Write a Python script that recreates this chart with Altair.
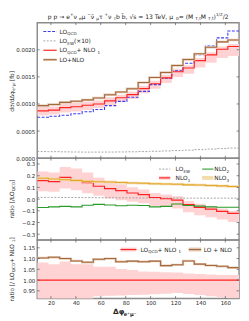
import altair as alt
import pandas as pd

FONT = "DejaVu Sans"

# ---------------- data ----------------
# bin edges of Δφ(e+ μ-) in degrees
edges = [9, 18, 27, 36, 45, 54, 63, 72, 81, 90, 99, 108, 117, 126, 135, 144, 153, 162, 171]

# top panel: dσ/dΔφ [fb]
lo_qcd = [0.000756, 0.000774, 0.000792, 0.000821, 0.000857, 0.000899, 0.000970, 0.001048, 0.001125,
          0.001232, 0.001357, 0.001476, 0.001613, 0.001750, 0.001910, 0.002070, 0.002220, 0.002345]
lo_ew_x10 = [0.000122, 0.000120, 0.000117, 0.000114, 0.000112, 0.000112, 0.000113, 0.000115, 0.000118,
             0.000122, 0.000127, 0.000133, 0.000140, 0.000148, 0.000158, 0.000168, 0.000177, 0.000186]
lo_qcd_nlo1 = [0.000872, 0.000888, 0.000933, 0.000948, 0.000976, 0.001000, 0.001058, 0.001115, 0.001172,
               0.001283, 0.001373, 0.001480, 0.001595, 0.001664, 0.001800, 0.001905, 0.002010, 0.002060]
lo_qcd_nlo1_lo = [0.000789, 0.000804, 0.000844, 0.000863, 0.000890, 0.000925, 0.000981, 0.001035, 0.001090,
                  0.001196, 0.001282, 0.001385, 0.001499, 0.001556, 0.001674, 0.001762, 0.001849, 0.001885]
lo_qcd_nlo1_hi = [0.000944, 0.000953, 0.001013, 0.001017, 0.001047, 0.001062, 0.001124, 0.001172, 0.001227,
                  0.001334, 0.001427, 0.001533, 0.001651, 0.001714, 0.001850, 0.001955, 0.002058, 0.002107]
lo_nlo = [0.000970, 0.000990, 0.001030, 0.001050, 0.001075, 0.001110, 0.001170, 0.001220, 0.001280,
          0.001395, 0.001490, 0.001580, 0.001710, 0.001820, 0.001925, 0.002045, 0.002145, 0.002180]

# middle panel: ratio to LO_QCD
r_ew = [0.015, 0.015, 0.014, 0.014, 0.013, 0.012, 0.012, 0.011, 0.011,
        0.010, 0.010, 0.009, 0.009, 0.008, 0.008, 0.008, 0.008, 0.008]
r_nlo1 = [0.158, 0.150, 0.186, 0.158, 0.140, 0.110, 0.089, 0.072, 0.052,
          0.039, 0.014, 0.003, -0.008, -0.047, -0.070, -0.086, -0.105, -0.122]
r_nlo1_lo = [0.067, 0.062, 0.090, 0.075, 0.050, 0.028, 0.005, -0.010, -0.022,
             -0.035, -0.058, -0.068, -0.080, -0.112, -0.138, -0.155, -0.175, -0.195]
r_nlo1_hi = [0.236, 0.228, 0.275, 0.262, 0.228, 0.182, 0.158, 0.128, 0.102,
             0.082, 0.052, 0.040, 0.025, -0.018, -0.040, -0.060, -0.080, -0.100]
r_nlo2 = [-0.072, -0.066, -0.062, -0.066, -0.052, -0.045, -0.050, -0.057, -0.053,
          -0.055, -0.066, -0.062, -0.042, -0.055, -0.060, -0.066, -0.070, -0.070]
r_nlo3 = [0.178, 0.172, 0.165, 0.160, 0.152, 0.148, 0.146, 0.142, 0.138,
          0.135, 0.132, 0.130, 0.127, 0.122, 0.120, 0.117, 0.113, 0.108]

# bottom panel: ratio to LO_QCD + NLO_1
b_ref = [1.0] * 18
b_ref_lo = [0.905, 0.905, 0.905, 0.910, 0.912, 0.925, 0.927, 0.928, 0.930,
            0.932, 0.934, 0.936, 0.940, 0.935, 0.930, 0.925, 0.920, 0.915]
b_ref_hi = [1.082, 1.073, 1.086, 1.073, 1.073, 1.062, 1.062, 1.051, 1.047,
            1.040, 1.039, 1.036, 1.035, 1.030, 1.028, 1.026, 1.024, 1.023]
b_lo_nlo = [1.103, 1.106, 1.100, 1.089, 1.083, 1.097, 1.100, 1.085, 1.088,
            1.085, 1.088, 1.067, 1.071, 1.089, 1.074, 1.068, 1.064, 1.058]

x_ticks = [20, 40, 60, 80, 100, 120, 140, 160]
top_ticks = [0.0, 0.0005, 0.0010, 0.0015, 0.0020]
mid_ticks = [-0.3, -0.2, -0.1, 0.0, 0.1, 0.2, 0.3]
bot_ticks = [0.95, 1.00, 1.05, 1.10, 1.15]

# ---------------- style ----------------
W = 207
H1, H2, H3 = 139, 84, 60
BLUE = "#3b3bf0"
GRAY = "#9a9a9a"
RED = "#ff2222"
PINK = "#ffd3d3"
BROWN = "#a5693f"
TAN = "#e2c9b4"
GREEN = "#2a9a2a"
ORANGE = "#e3a52c"
LORANGE = "#f4dcaa"
LAB = "#262626"
TICKC = "#555555"
SPINE = "#8c8c8c"

EM = {' ': 0.318, 'a': 0.613, 'b': 0.635, 'c': 0.550, 'd': 0.635, 'e': 0.615, 'f': 0.352,
      'i': 0.278, 'l': 0.278, 'n': 0.634, 'o': 0.612, 'p': 0.635, 'r': 0.411, 's': 0.521,
      't': 0.392, 'u': 0.634, 'v': 0.592, 'x': 0.592, 'C': 0.698, 'D': 0.770, 'E': 0.632,
      'L': 0.557, 'M': 0.863, 'N': 0.748, 'O': 0.787, 'Q': 0.787, 'T': 0.611, 'V': 0.684,
      'W': 0.989, '+': 0.838, '=': 0.838, '×': 0.838, '−': 0.838, ',': 0.318, '.': 0.318,
      '/': 0.337, '(': 0.390, ')': 0.390, '[': 0.390, ']': 0.390, '→': 0.838, '√': 0.636,
      'σ': 0.633, 'φ': 0.660, 'Δ': 0.684, 'μ': 0.636, 'ν': 0.592, 'τ': 0.580,
      '⁺': 0.52, '⁻': 0.52, '\u0304': 0.0}
for _d in "0123456789":
    EM[_d] = 0.636

ONE = pd.DataFrame({"o": [0]})


def text_w(s, fs, bold=False):
    return sum(EM.get(c, 0.6) for c in s) * fs * (1.1 if bold else 1.0)


def rich(segs, x, y, fs, color=LAB, angle=0, anchor="start", weight="normal"):
    items = []
    for t, kind in segs:
        f = fs if kind == "n" else fs * 0.7
        shift = 0 if kind == "n" else (0.28 * fs if kind == "sub" else -0.42 * fs)
        items.append((t, f, shift))
    bold = weight == "bold"
    total = sum(text_w(t, f, bold) for t, f, _ in items)
    s = -total / 2 if anchor == "middle" else 0
    layers = []
    for t, f, shift in items:
        if angle == 0:
            px, py = x + s, y + shift
        else:
            px, py = x + shift, y - s
        kw = dict(fontSize=f, font=FONT, color=color, align="left", baseline="alphabetic",
                  fontWeight=weight)
        if angle:
            kw["angle"] = angle
        layers.append(alt.Chart(ONE).mark_text(**kw).encode(
            x=alt.value(px), y=alt.value(py), text=alt.value(t)))
        s += text_w(t, f, bold)
    return layers


def leg_line(x1, x2, y, color, width=1.1, dash=None, opacity=1.0):
    kw = dict(color=color, strokeWidth=width, opacity=opacity)
    if dash:
        kw["strokeDash"] = dash
    return alt.Chart(ONE).mark_rule(**kw).encode(
        x=alt.value(x1), x2=alt.value(x2), y=alt.value(y))


def step_df(**cols):
    d = {"x": edges}
    for k, v in cols.items():
        d[k] = list(v) + [v[-1]]
    return pd.DataFrame(d)


xscale = alt.Scale(domain=[9, 171], nice=False, zero=False)


def encoders(ydom, yvals, fmt, show_x):
    ysc = alt.Scale(domain=ydom, nice=False, zero=False)
    yax = alt.Axis(values=yvals, format=fmt, ticks=False, domain=False, grid=False, title=None,
                   labelFont=FONT, labelFontSize=5.6, labelColor=LAB, labelPadding=2.5)
    if show_x:
        xax = alt.Axis(values=x_ticks, format="d", ticks=False, domain=False, grid=False,
                       title=None, labelFont=FONT, labelFontSize=5.6, labelColor=LAB,
                       labelPadding=2)
    else:
        xax = None

    def X(f):
        return alt.X(f"{f}:Q", scale=xscale, axis=xax)

    def Y(f):
        return alt.Y(f"{f}:Q", scale=ysc, axis=yax)
    return X, Y


def tick_layers(yvals, H, X, Y):
    ydf = pd.DataFrame({"t": yvals})
    xdf = pd.DataFrame({"t": x_ticks})
    kw = dict(color=TICKC, strokeWidth=0.7)
    return [
        alt.Chart(ydf).mark_rule(**kw).encode(y=Y("t"), x=alt.value(0), x2=alt.value(2.5)),
        alt.Chart(ydf).mark_rule(**kw).encode(y=Y("t"), x=alt.value(W - 2.5), x2=alt.value(W)),
        alt.Chart(xdf).mark_rule(**kw).encode(x=X("t"), y=alt.value(0), y2=alt.value(2.5)),
        alt.Chart(xdf).mark_rule(**kw).encode(x=X("t"), y=alt.value(H - 2.5), y2=alt.value(H)),
    ]


def sline(df, X, Y, field, color, width=1.1, dash=None, opacity=1.0):
    kw = dict(interpolate="step-after", color=color, strokeWidth=width, clip=True, opacity=opacity)
    if dash:
        kw["strokeDash"] = dash
    return alt.Chart(df).mark_line(**kw).encode(x=X("x"), y=Y(field))


def sband(df, X, Y, lo, hi, color):
    return alt.Chart(df).mark_area(interpolate="step-after", color=color, clip=True).encode(
        x=X("x"), y=Y(lo), y2=alt.Y2(f"{hi}:Q"))


K = W / 215.0
YT_X = -24
LFS = 6.0

# ---------------- top panel ----------------
X1, Y1 = encoders([0, 0.0025], top_ticks, ".4f", False)
d1 = step_df(qcd=lo_qcd, ew=lo_ew_x10, n1=lo_qcd_nlo1, n1lo=lo_qcd_nlo1_lo,
             n1hi=lo_qcd_nlo1_hi, nlo=lo_nlo)
top_layers = [
    sband(d1, X1, Y1, "n1lo", "n1hi", PINK),
    sline(d1, X1, Y1, "qcd", BLUE, 1.1, [3, 1.5]),
    sline(d1, X1, Y1, "ew", GRAY, 0.9, [2, 1.5]),
    sline(d1, X1, Y1, "n1", RED, 1.2),
    sline(d1, X1, Y1, "nlo", TAN, 2.4),
    sline(d1, X1, Y1, "nlo", BROWN, 1.1),
] + tick_layers(top_ticks, H1, X1, Y1)

lx1, lx2, ltx = 6.5 * K, 20.7 * K, 23.7 * K
rows = [9, 18.7, 28.3, 38]
top_layers += [
    leg_line(lx1, lx2, rows[0], BLUE, 1.1, [3, 1.5]),
    leg_line(lx1, lx2, rows[1], GRAY, 0.9, [2, 1.5]),
    leg_line(lx1, lx2, rows[2], RED, 1.2),
    leg_line(lx1, lx2, rows[3], TAN, 2.4),
    leg_line(lx1, lx2, rows[3], BROWN, 1.1),
]
top_layers += rich([("LO", "n"), ("QCD", "sub")], ltx, rows[0] + 2.2, LFS)
top_layers += rich([("LO", "n"), ("EW", "sub"), (" (×10)", "n")], ltx, rows[1] + 2.2, LFS)
top_layers += rich([("LO", "n"), ("QCD", "sub"), (" + NLO", "n"), ("1", "sub")], ltx, rows[2] + 2.2, LFS)
top_layers += rich([("LO+NLO", "n")], ltx, rows[3] + 2.2, LFS)
# title
top_layers += rich([("p p → e", "n"), ("+", "sup"), (" ν", "n"), ("e", "sub"), (" μ", "n"),
                    ("−", "sup"), (" ν\u0304", "n"), ("μ", "sub"), (" τ", "n"), ("+", "sup"),
                    (" ν", "n"), ("τ", "sub"), (" b b\u0304, √s = 13 TeV, μ", "n"), ("0", "sub"),
                    (" = (M", "n"), ("T,t", "sub"), (" M", "n"), ("T,t\u0304", "sub"), (")", "n"),
                    ("1/2", "sup"), ("/2", "n")], W / 2, -4, 6.2, anchor="middle")
# y title
top_layers += rich([("dσ/dΔφ", "n"), ("e⁺μ⁻", "sub"), (" [fb]", "n")], YT_X, H1 / 2, 6.0,
                   angle=270, anchor="middle")
top = alt.layer(*top_layers).properties(width=W, height=H1)

# ---------------- middle panel ----------------
X2, Y2 = encoders([-0.35, 0.35], mid_ticks, ".1f", False)
d2 = step_df(ew=r_ew, n1=r_nlo1, n1lo=r_nlo1_lo, n1hi=r_nlo1_hi, n2=r_nlo2, n3=r_nlo3)
mid_layers = [
    sband(d2, X2, Y2, "n1lo", "n1hi", PINK),
    sline(d2, X2, Y2, "ew", GRAY, 0.9, [2, 1.5]),
    sline(d2, X2, Y2, "n1", RED, 1.2),
    sline(d2, X2, Y2, "n2", GREEN, 1.1),
    sline(d2, X2, Y2, "n3", LORANGE, 2.6),
    sline(d2, X2, Y2, "n3", ORANGE, 1.1),
] + tick_layers(mid_ticks, H2, X2, Y2)
c1a, c1b, c1t = 129.7 * K, 141.7 * K, 147.4 * K
c2a, c2b, c2t = 175.7 * K, 187.7 * K, 188.7 * K
mr = [11.2, 20.2]
mid_layers += [
    leg_line(c1a, c1b, mr[0], GRAY, 0.9, [2, 1.5]),
    leg_line(c1a, c1b, mr[1], PINK, 4.0),
    leg_line(c1a, c1b, mr[1], RED, 1.2),
    leg_line(c2a, c2b, mr[0], GREEN, 1.1),
    leg_line(c2a, c2b, mr[1], LORANGE, 4.0),
]
mid_layers += rich([("LO", "n"), ("EW", "sub")], c1t, mr[0] + 2.2, LFS)
mid_layers += rich([("NLO", "n"), ("1", "sub")], c1t, mr[1] + 2.2, LFS)
mid_layers += rich([("NLO", "n"), ("2", "sub")], c2t, mr[0] + 2.2, LFS)
mid_layers += rich([("NLO", "n"), ("3", "sub")], c2t, mr[1] + 2.2, LFS)
mid_layers += rich([("ratio [/LO", "n"), ("QCD", "sub"), ("]", "n")], YT_X, H2 / 2, 6.0,
                   angle=270, anchor="middle")
mid = alt.layer(*mid_layers).properties(width=W, height=H2)

# ---------------- bottom panel ----------------
X3, Y3 = encoders([0.914, 1.186], bot_ticks, ".2f", True)
d3 = step_df(ref=b_ref, rlo=b_ref_lo, rhi=b_ref_hi, nlo=b_lo_nlo)
bot_layers = [
    sband(d3, X3, Y3, "rlo", "rhi", PINK),
    sline(d3, X3, Y3, "ref", RED, 1.2),
    sline(d3, X3, Y3, "nlo", TAN, 2.4),
    sline(d3, X3, Y3, "nlo", BROWN, 1.1),
] + tick_layers(bot_ticks, H3, X3, Y3)
bl = 9.7
bot_layers += [
    leg_line(88.7 * K, 105.7 * K, bl, PINK, 4.0),
    leg_line(88.7 * K, 105.7 * K, bl, RED, 1.2),
    leg_line(161.4 * K, 174.7 * K, bl, TAN, 4.0),
    leg_line(161.4 * K, 174.7 * K, bl, BROWN, 1.1),
]
bot_layers += rich([("LO", "n"), ("QCD", "sub"), (" + NLO", "n"), ("1", "sub")], 110.0 * K, bl + 2.2, LFS)
bot_layers += rich([("LO + NLO", "n")], 177.4 * K, bl + 2.2, LFS)
bot_layers += rich([("ratio [/ LO", "n"), ("QCD", "sub"), (" + NLO", "n"), ("1", "sub"), ("]", "n")],
                   YT_X, H3 / 2, 6.0, angle=270, anchor="middle")
bot_layers += rich([("Δφ", "n"), ("e⁺μ⁻", "sub")], 80.7 * K, H3 + 15.5, 7.5, weight="bold")
bot = alt.layer(*bot_layers).properties(width=W, height=H3)

chart = alt.vconcat(top, mid, bot, spacing=0, bounds="flush").properties(
    padding=0, background="white"
).configure_view(stroke=SPINE, strokeWidth=1.5)

chart.save("out.html", embed_options={"renderer": "svg", "actions": False})
